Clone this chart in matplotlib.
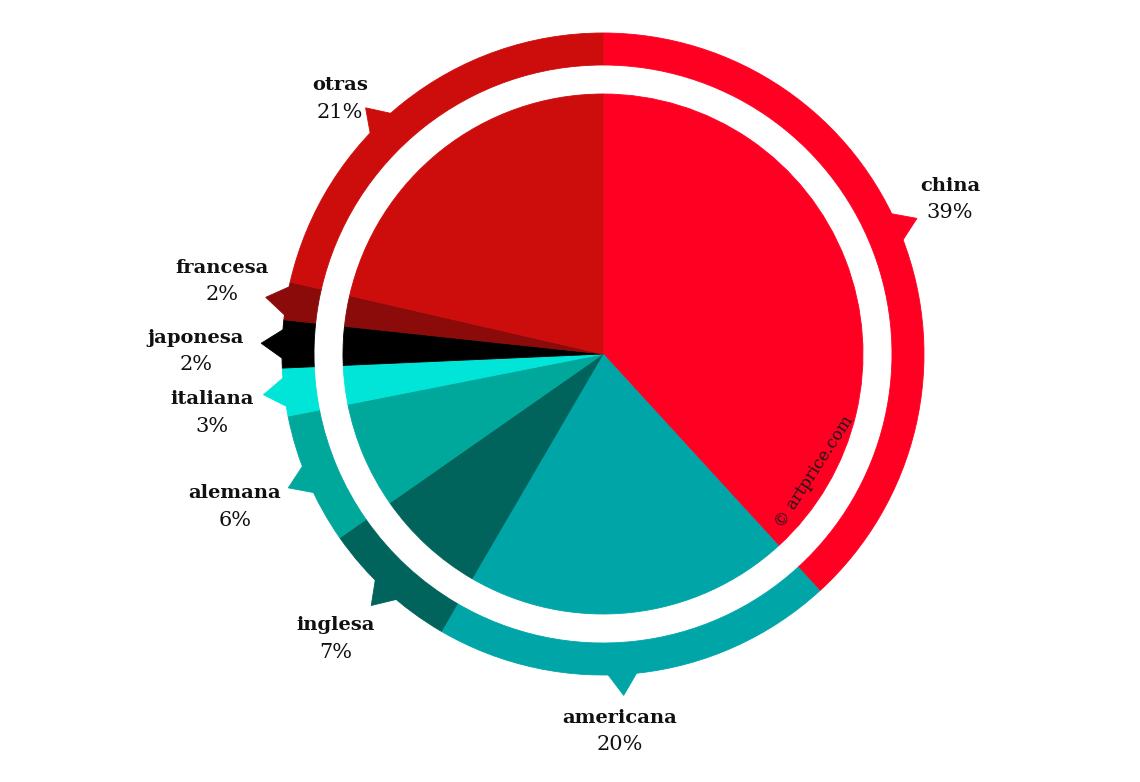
# Donut-style pie: market share by nationality (artprice)
import numpy as np
import matplotlib
matplotlib.use("Agg")
import matplotlib.pyplot as plt

# ─────────────────────────────────────────────
# DATA
# ─────────────────────────────────────────────

categories = ["china", "americana", "inglesa", "alemana",
              "italiana", "japonesa", "francesa", "otras"]
shares = [38.2, 20.2, 6.9, 6.6, 2.4, 2.4, 1.9, 21.4]
share_labels = ["39%", "20%", "7%", "6%", "3%", "2%", "2%", "21%"]

COLORS = ["#FF0022", "#00A5A8", "#00645C", "#00A89C",
          "#00E5D8", "#000000", "#8B0A0A", "#CD0C0C"]

# label positions in pixel coords (x, y from top)
LABEL_POS = {
    "china":     (950, 186),
    "americana": (620, 718),
    "inglesa":   (336, 625),
    "alemana":   (235, 493),
    "italiana":  (212, 399),
    "japonesa":  (196, 338),
    "francesa":  (222, 268),
    "otras":     (340, 85),
}

W, H = 1140, 782
CX, CY = 603, H - 354
R_PIE = 260
R_IN, R_OUT = 289, 321
FONT = "DejaVu Serif"

# ─────────────────────────────────────────────
# FIGURE
# ─────────────────────────────────────────────

fig = plt.figure(figsize=(W / 100, H / 100), dpi=100)
ax = fig.add_axes([0, 0, 1, 1])

# inner pie
wedges, _ = ax.pie(shares, colors=COLORS, startangle=90, counterclock=False,
                   center=(CX, CY), radius=R_PIE, frame=True,
                   wedgeprops=dict(linewidth=0.6))
for w in wedges:
    w.set_edgecolor(w.get_facecolor())

# outer ring
rings, _ = ax.pie(shares, colors=COLORS, startangle=90, counterclock=False,
                  center=(CX, CY), radius=R_OUT, frame=True,
                  wedgeprops=dict(width=R_OUT - R_IN, linewidth=0.6))
for w in rings:
    w.set_edgecolor(w.get_facecolor())

# pointers: slice midpoint for small slices, pulled towards the label for big ones
cum = np.cumsum([0] + shares)
for i, cat in enumerate(categories):
    lx, ly = LABEL_POS[cat]
    mid = 90 - (cum[i] + cum[i + 1]) / 2 / 100 * 360
    if shares[i] > 10:
        lab = np.degrees(np.arctan2(H - ly - 13 - CY, lx - CX))
        if lab - mid > 180:
            lab -= 360
        if mid - lab > 180:
            lab += 360
        mid = mid + 0.75 * (lab - mid)
    a0, a1, am = np.radians([mid - 2.8, mid + 2.8, mid])
    xs = [CX + (R_OUT - 2) * np.cos(a0), CX + (R_OUT + 21) * np.cos(am),
          CX + (R_OUT - 2) * np.cos(a1)]
    ys = [CY + (R_OUT - 2) * np.sin(a0), CY + (R_OUT + 21) * np.sin(am),
          CY + (R_OUT - 2) * np.sin(a1)]
    ax.fill(xs, ys, color=COLORS[i], linewidth=0.6, edgecolor=COLORS[i])

    ax.text(lx, H - ly, cat, ha="center", va="center", fontsize=14,
            fontweight="bold", family=FONT, color="#111111")
    ax.text(lx, H - ly - 27, share_labels[i], ha="center", va="center",
            fontsize=15, family=FONT, color="#111111")

ax.text(814, H - 472, "© artprice.com", rotation=57, ha="center", va="center",
        fontsize=12, family=FONT, color="#1a1a1a")

ax.set_xlim(0, W)
ax.set_ylim(0, H)
ax.set_aspect("equal")
ax.axis("off")

fig.savefig("out.png", dpi=100)
plt.close(fig)
